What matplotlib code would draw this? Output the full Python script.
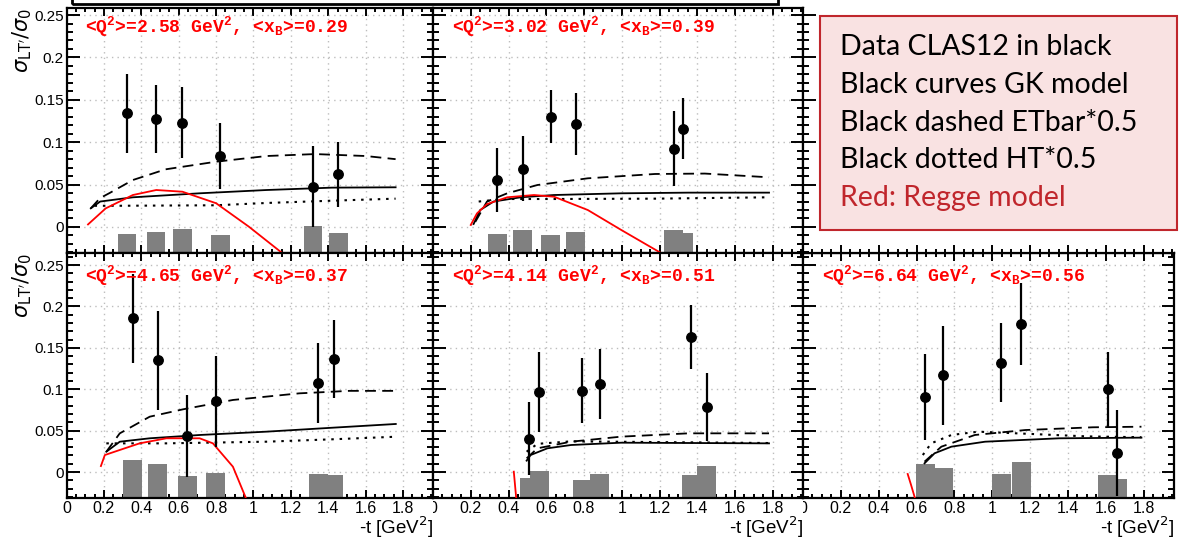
import numpy as np
import matplotlib
matplotlib.use("Agg")
import matplotlib.pyplot as plt
from matplotlib.patches import Rectangle
from matplotlib.ticker import MultipleLocator, FuncFormatter
from matplotlib.transforms import Bbox, TransformedBbox

# ---------------- data ----------------
panel_labels = [
    r"<Q$^{2}$>=2.58 GeV$^{2}$, <x$_{B}$>=0.29",
    r"<Q$^{2}$>=3.02 GeV$^{2}$, <x$_{B}$>=0.39",
    r"<Q$^{2}$>=4.65 GeV$^{2}$, <x$_{B}$>=0.37",
    r"<Q$^{2}$>=4.14 GeV$^{2}$, <x$_{B}$>=0.51",
    r"<Q$^{2}$>=6.64 GeV$^{2}$, <x$_{B}$>=0.56",
]

# top-left
tl_t = [0.323, 0.479, 0.619, 0.823, 1.319, 1.454]
tl_v = [0.134, 0.127, 0.123, 0.084, 0.0475, 0.062]
tl_e = [0.047, 0.040, 0.042, 0.039, 0.048, 0.038]
tl_sys = [-0.0083, -0.0055, -0.002, -0.0098, 0.0012, -0.0074]
tl_gk_t = [0.13, 0.18, 0.355, 0.71, 1.07, 1.42, 1.76]
tl_gk_v = [0.022, 0.030, 0.035, 0.0397, 0.0436, 0.0464, 0.0468]
tl_et_t = [0.13, 0.179, 0.23, 0.355, 0.53, 0.80, 1.07, 1.33, 1.60, 1.76]
tl_et_v = [0.022, 0.034, 0.040, 0.0554, 0.068, 0.077, 0.0837, 0.086, 0.0837, 0.080]
tl_ht_t = [0.15, 0.27, 0.80, 1.07, 1.42, 1.76]
tl_ht_v = [0.025, 0.025, 0.0256, 0.0283, 0.031, 0.0334]
tl_rg_t = [0.115, 0.21, 0.355, 0.48, 0.62, 0.80, 0.975, 1.155]
tl_rg_v = [0.003, 0.022, 0.0377, 0.0436, 0.0416, 0.028, 0.0004, -0.031]

# top-middle
tm_t = [0.340, 0.476, 0.624, 0.757, 1.276, 1.326]
tm_v = [0.0554, 0.0688, 0.130, 0.1215, 0.0923, 0.116]
tm_e = [0.038, 0.038, 0.031, 0.037, 0.044, 0.036]
tm_sys = [-0.0083, -0.0035, -0.0098, -0.0055, -0.0035, -0.0067]
tm_gk_t = [0.215, 0.25, 0.321, 0.464, 0.641, 0.997, 1.353, 1.78]
tm_gk_v = [0.0035, 0.020, 0.030, 0.035, 0.0377, 0.0397, 0.0405, 0.0405]
tm_et_t = [0.224, 0.286, 0.393, 0.553, 0.82, 1.176, 1.44, 1.78]
tm_et_v = [0.006, 0.030, 0.0397, 0.0495, 0.0574, 0.0625, 0.063, 0.0586]
tm_ht_t = [0.242, 0.375, 0.641, 1.176, 1.78]
tm_ht_v = [0.030, 0.033, 0.033, 0.0334, 0.035]
tm_rg_t = [0.20, 0.233, 0.286, 0.393, 0.535, 0.641, 0.82, 0.997, 1.21]
tm_rg_v = [0.0024, 0.016, 0.027, 0.035, 0.0377, 0.0357, 0.020, -0.0035, -0.031]

# bottom-left
bl_t = [0.353, 0.488, 0.647, 0.798, 1.346, 1.431]
bl_v = [0.1856, 0.1349, 0.0435, 0.0857, 0.1071, 0.1368]
bl_e = [0.054, 0.060, 0.050, 0.055, 0.0485, 0.047]
bl_sys = [0.0145, 0.0093, -0.0048, -0.0008, -0.0024, -0.004]
bl_gk_t = [0.213, 0.285, 0.445, 0.712, 1.068, 1.423, 1.761]
bl_gk_v = [0.0245, 0.0366, 0.0407, 0.0447, 0.0487, 0.0535, 0.058]
bl_et_t = [0.213, 0.285, 0.445, 0.623, 0.89, 1.245, 1.512, 1.761]
bl_et_v = [0.0245, 0.0467, 0.0668, 0.0757, 0.087, 0.095, 0.098, 0.098]
bl_ht_t = [0.213, 0.534, 1.068, 1.423, 1.761]
bl_ht_v = [0.0346, 0.0346, 0.0366, 0.0395, 0.0426]
bl_rg_t = [0.184, 0.205, 0.285, 0.391, 0.534, 0.712, 0.783, 0.89, 0.96]
bl_rg_v = [0.0072, 0.0205, 0.0266, 0.0346, 0.0407, 0.0407, 0.0346, 0.0064, -0.0318]

# bottom-middle
bm_t = [0.510, 0.562, 0.789, 0.884, 1.367, 1.451]
bm_v = [0.0402, 0.0966, 0.0982, 0.1063, 0.163, 0.0789]
bm_e = [0.044, 0.048, 0.039, 0.042, 0.039, 0.041]
bm_sys = [-0.0069, 0.0016, -0.0097, -0.0028, -0.0036, 0.0072]
bm_gk_t = [0.496, 0.517, 0.606, 0.731, 0.997, 1.78]
bm_gk_v = [0.0137, 0.0205, 0.0286, 0.0326, 0.0354, 0.0346]
bm_et_t = [0.496, 0.553, 0.731, 0.997, 1.353, 1.78]
bm_et_v = [0.0165, 0.0286, 0.0366, 0.0427, 0.0467, 0.0467]
bm_ht_t = [0.496, 0.553, 0.73, 1.0, 1.78]
bm_ht_v = [0.0245, 0.034, 0.037, 0.0365, 0.035]
bm_rg_t = [0.428, 0.441]
bm_rg_v = [0.0004, -0.032]

# bottom-right
br_t = [0.647, 0.741, 1.047, 1.153, 1.611, 1.66]
br_v = [0.0902, 0.1168, 0.132, 0.1787, 0.0999, 0.0226]
br_e = [0.052, 0.060, 0.048, 0.049, 0.045, 0.052]
br_sys = [0.0093, 0.0045, -0.0028, 0.0117, -0.0036, -0.0088]
br_gk_t = [0.642, 0.695, 0.784, 0.962, 1.353, 1.788]
br_gk_v = [0.0105, 0.0226, 0.0306, 0.0366, 0.0407, 0.0415]
br_et_t = [0.642, 0.731, 0.908, 1.175, 1.531, 1.788]
br_et_v = [0.0125, 0.0306, 0.0447, 0.0507, 0.054, 0.0547]
br_ht_t = [0.633, 0.677, 0.784, 0.926, 1.2, 1.5, 1.788]
br_ht_v = [0.0205, 0.0346, 0.0447, 0.0487, 0.046, 0.043, 0.042]
br_rg_t = [0.553, 0.571, 0.592]
br_rg_v = [-0.0024, -0.0157, -0.032]

legend_lines = ["Data CLAS12 in black", "Black curves GK model",
                "Black dashed ETbar*0.5", "Black dotted HT*0.5",
                "Red: Regge model"]
legend_colors = ["black", "black", "black", "black", "#c0262c"]

# ---------------- style ----------------
plt.rcParams['mathtext.fontset'] = 'custom'
plt.rcParams['mathtext.rm'] = 'Liberation Mono:bold'
plt.rcParams['mathtext.it'] = 'Liberation Mono:bold'
plt.rcParams['mathtext.bf'] = 'Liberation Mono:bold'
plt.rcParams['font.family'] = ['Liberation Sans', 'DejaVu Sans']

W, H = 1187, 539
fig = plt.figure(figsize=(W / 100, H / 100), dpi=100)


def fx(px):
    return px / W


def fy(py):
    return 1 - py / H


cols = [(66.5, 433), (433, 803), (803, 1174)]
rows = [(8, 253), (253, 498)]
ylims = [(-0.0307, 0.2583), (-0.0314, 0.2645)]


def make_ax(r, c):
    x0, x1 = cols[c]
    y0, y1 = rows[r]
    ax = fig.add_axes([fx(x0), fy(y1), fx(x1) - fx(x0), fy(y0) - fy(y1)])
    ax.set_xlim(0, 1.96)
    ax.set_ylim(*ylims[r])
    return ax


def style_ax(ax, xlabels, ylabels):
    ax.xaxis.set_major_locator(MultipleLocator(0.2))
    ax.xaxis.set_minor_locator(MultipleLocator(0.05))
    ax.yaxis.set_major_locator(MultipleLocator(0.05))
    ax.yaxis.set_minor_locator(MultipleLocator(0.01))
    fmt = FuncFormatter(lambda v, p: f"{round(v, 3):g}")
    ax.xaxis.set_major_formatter(fmt)
    ax.yaxis.set_major_formatter(fmt)
    ax.tick_params(which='both', direction='in', top=True, right=True,
                   width=1.4, colors='black')
    ax.tick_params(axis='y', which='major', length=9, pad=2, labelsize=11)
    ax.tick_params(axis='y', which='minor', length=4.5)
    ax.tick_params(axis='x', which='major', length=6, pad=2, labelsize=11.5)
    ax.tick_params(axis='x', which='minor', length=3)
    ax.tick_params(labelbottom=xlabels, labelleft=ylabels)
    for s in ax.spines.values():
        s.set_linewidth(1.6)
    ax.grid(True, which='major', color='#bdbdbd', linestyle=(0, (1, 3)), lw=1)
    ax.set_axisbelow(True)


panels = [
    (0, 0, tl_t, tl_v, tl_e, tl_sys, tl_gk_t, tl_gk_v, tl_et_t, tl_et_v, tl_ht_t, tl_ht_v, tl_rg_t, tl_rg_v),
    (0, 1, tm_t, tm_v, tm_e, tm_sys, tm_gk_t, tm_gk_v, tm_et_t, tm_et_v, tm_ht_t, tm_ht_v, tm_rg_t, tm_rg_v),
    (1, 0, bl_t, bl_v, bl_e, bl_sys, bl_gk_t, bl_gk_v, bl_et_t, bl_et_v, bl_ht_t, bl_ht_v, bl_rg_t, bl_rg_v),
    (1, 1, bm_t, bm_v, bm_e, bm_sys, bm_gk_t, bm_gk_v, bm_et_t, bm_et_v, bm_ht_t, bm_ht_v, bm_rg_t, bm_rg_v),
    (1, 2, br_t, br_v, br_e, br_sys, br_gk_t, br_gk_v, br_et_t, br_et_v, br_ht_t, br_ht_v, br_rg_t, br_rg_v),
]

axes = []
for i, (r, c, t, v, e, sys_, gt, gv, et, ev, ht, hv, rt, rv) in enumerate(panels):
    ax = make_ax(r, c)
    style_ax(ax, xlabels=(r == 1), ylabels=(c == 0))
    base = -0.08
    ax.bar(t, np.array(sys_) - base, bottom=base, width=0.1,
           color='#808080', zorder=1)
    ax.plot(gt, gv, color='black', lw=1.3, zorder=2)
    ax.plot(et, ev, color='black', lw=1.3, linestyle=(0, (6, 3.5)), zorder=2)
    ax.plot(ht, hv, color='black', lw=1.5, linestyle=(0, (1.2, 2.8)), zorder=2)
    ax.plot(rt, rv, color='red', lw=1.3, zorder=3)
    ax.errorbar(t, v, yerr=e, fmt='o', color='black', ms=6.8,
                elinewidth=1.6, capsize=0, zorder=4)
    ax.text(0.1, 0.23, panel_labels[i], color='red', fontsize=13,
            family='Liberation Mono', weight='bold', math_fontfamily='custom',
            va='baseline', ha='left', zorder=5)
    if c == 0:
        ax.text(-0.121, 1.0, r"$\sigma_{\mathrm{LT'}}/\sigma_{\mathrm{0}}$",
                transform=ax.transAxes, rotation=90, ha='center', va='top',
                fontsize=15, math_fontfamily='dejavusans')
    if r == 1:
        ax.text(1.0, -0.147, r"-t [GeV$^{2}$]", transform=ax.transAxes,
                ha='right', va='baseline', fontsize=13.5,
                math_fontfamily='dejavusans')
    axes.append(ax)

# empty top-right panel: only its left/bottom frame is visible
ax_tr = make_ax(0, 2)
style_ax(ax_tr, xlabels=False, ylabels=False)
ax_tr.grid(False)
ax_tr.spines['top'].set_visible(False)
ax_tr.spines['right'].set_visible(False)
ax_tr.tick_params(which='both', top=False, right=False)

# clipped top box outline
fig.add_artist(Rectangle((fx(72), fy(3.5)), fx(778) - fx(72), 0.2,
                         transform=fig.transFigure, fill=False,
                         edgecolor='black', lw=2, clip_on=False))

# legend box
fig.add_artist(Rectangle((fx(820), fy(230)), fx(1177) - fx(820), fy(16) - fy(230),
                         transform=fig.transFigure, facecolor='#f9e2e2',
                         edgecolor='#c0262c', lw=1.5, zorder=10))
baselines = [55, 92.8, 130.6, 168.4, 206.2]
for line, col, b in zip(legend_lines, legend_colors, baselines):
    fig.text(fx(840), fy(b), line, color=col, fontsize=20.5,
             family=['Lato', 'DejaVu Sans'], va='baseline', ha='left', zorder=11)

# clip the "0" labels of middle/right bottom panels at their left frame edge
fig.canvas.draw()
for ax in axes[3:]:
    x0 = ax.get_position().x0
    cb = TransformedBbox(Bbox([[x0, 0], [1, 1]]), fig.transFigure)
    for tk in ax.xaxis.get_major_ticks():
        tk.label1.set_clip_box(cb)
        tk.label1.set_clip_on(True)

fig.savefig("out.png", dpi=100)
